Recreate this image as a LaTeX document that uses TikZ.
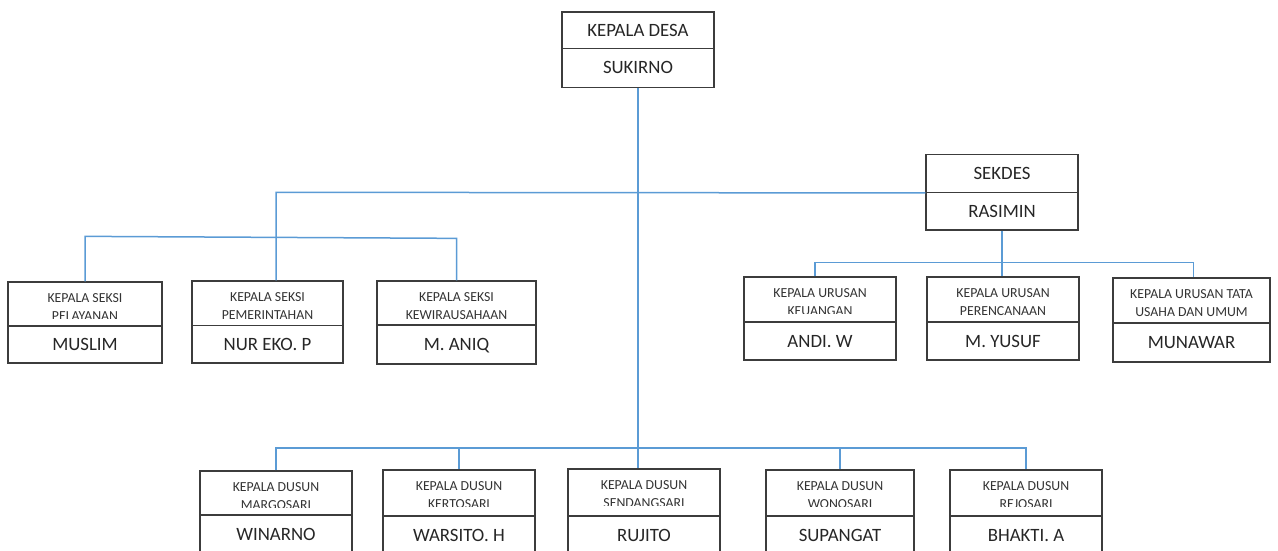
\documentclass[tikz,border=0pt]{standalone}
\usepackage{fontspec}
\setmainfont{Carlito}
\usepackage{tikz, xcolor}
\usetikzlibrary{positioning}
\definecolor{garis}{RGB}{91,155,213}
\definecolor{tepi}{RGB}{60,60,60}
% #1 node, #2 left, #3 right, #4 top, #5 divider, #6 bottom, #7 clip, #8 jabatan, #9 nama
\newcommand{\jabatan}[9]{%
  \node[HEAD,minimum width={#3-#2},minimum height={#5-#4}] (#1) at ({(#2+#3)/2},{(#4+#5)/2}) {};
  \node[NAME,minimum width={#3-#2},minimum height={#6-#5}] (#1 nama) at ({(#2+#3)/2},{(#5+#6)/2}) {#9};
  \begin{scope}
    \clip (#2,#4) rectangle (#3,#7);
    \node[TITLE] (#1 teks) at ({(#2+#3)/2},{#4+25}) {#8};
  \end{scope}}

\begin{document}
\begin{tikzpicture}[x=1pt,y=-1pt]
\tikzset{HEAD/.style={draw=tepi,line width=1.3pt,rectangle,inner sep=0pt}}
\tikzset{BIG/.style={font=\fontsize{18.8}{22}\selectfont,text=black!85,text height=12.1pt,text depth=0pt}}
\tikzset{NAME/.style={HEAD,BIG}}
\tikzset{TITLE/.style={inner sep=0pt,align=center,text=black!80,font=\fontsize{13.8}{17.8}\selectfont}}
\tikzset{LINK/.style={draw=garis,line width=1.5pt}}

\useasboundingbox (0,0) rectangle (1278,550);

\node[HEAD,BIG,minimum width=152,minimum height=36.3] (kades) at (638,30.2) {KEPALA DESA};
\node[NAME,minimum width=152,minimum height=39] (kades nama) at (638,67.8) {SUKIRNO};
\node[HEAD,BIG,minimum width=152,minimum height=38] (sekdes) at (1002,173.3) {SEKDES};
\node[NAME,minimum width=152,minimum height=37.7] (sekdes nama) at (1002,211.2) {RASIMIN};

\jabatan{pelayanan}{8}{162}{282}{326}{363}{318}{KEPALA SEKSI\\PELAYANAN}{MUSLIM}
\jabatan{pemerintahan}{192}{343}{281}{325.5}{363}{325.5}{KEPALA SEKSI\\PEMERINTAHAN}{NUR EKO. P}
\jabatan{kewirausahaan}{377}{536}{281}{325}{364}{325}{KEPALA SEKSI\\KEWIRAUSAHAAN}{M. ANIQ}

\jabatan{keuangan}{744}{896}{277}{322}{360}{313}{KEPALA URUSAN\\KEUANGAN}{ANDI. W}
\jabatan{perencanaan}{927}{1079}{277}{322}{360}{322}{KEPALA URUSAN\\PERENCANAAN}{M. YUSUF}
\jabatan{tatausaha}{1113}{1270}{278}{323}{362}{323}{KEPALA URUSAN TATA\\USAHA DAN UMUM}{MUNAWAR}

\jabatan{margosari}{200}{352}{471}{515}{553}{507}{KEPALA DUSUN\\MARGOSARI}{WINARNO}
\jabatan{kertosari}{383}{535}{470}{516}{554}{506}{KEPALA DUSUN\\KERTOSARI}{WARSITO. H}
\jabatan{sendangsari}{568}{720}{469}{516}{554}{505}{KEPALA DUSUN\\SENDANGSARI}{RUJITO}
\jabatan{wonosari}{766}{914}{470}{516}{554}{506}{KEPALA DUSUN\\WONOSARI}{SUPANGAT}
\jabatan{rejosari}{950}{1102}{470}{516}{554}{506}{KEPALA DUSUN\\REJOSARI}{BHAKTI. A}

\coordinate (cabang kiri) at (276,192.3);
\coordinate (bus urusan) at (1002,262.5);
\coordinate (bus dusun) at (638,448);

\path[LINK] (kades nama.south) -- (kades nama.south |- sendangsari.north);
\path[LINK] (sekdes.south west) -- (cabang kiri) -- (cabang kiri |- pemerintahan.north);
\path[LINK] (pelayanan.north) -- ([yshift=45]pelayanan.north) -- ([yshift=42]kewirausahaan.north) -- (kewirausahaan.north);

\path[LINK] (sekdes nama.south) -- (sekdes nama.south |- perencanaan.north);
\path[LINK] ([xshift=-5]keuangan.north) |- (bus urusan) -| ([xshift=2]tatausaha.north);

\path[LINK] (margosari.north) |- (bus dusun) -| (rejosari.north);
\path[LINK] (kertosari.north) -- (kertosari.north |- bus dusun);
\path[LINK] (wonosari.north) -- (wonosari.north |- bus dusun);

\end{tikzpicture}
\end{document}
